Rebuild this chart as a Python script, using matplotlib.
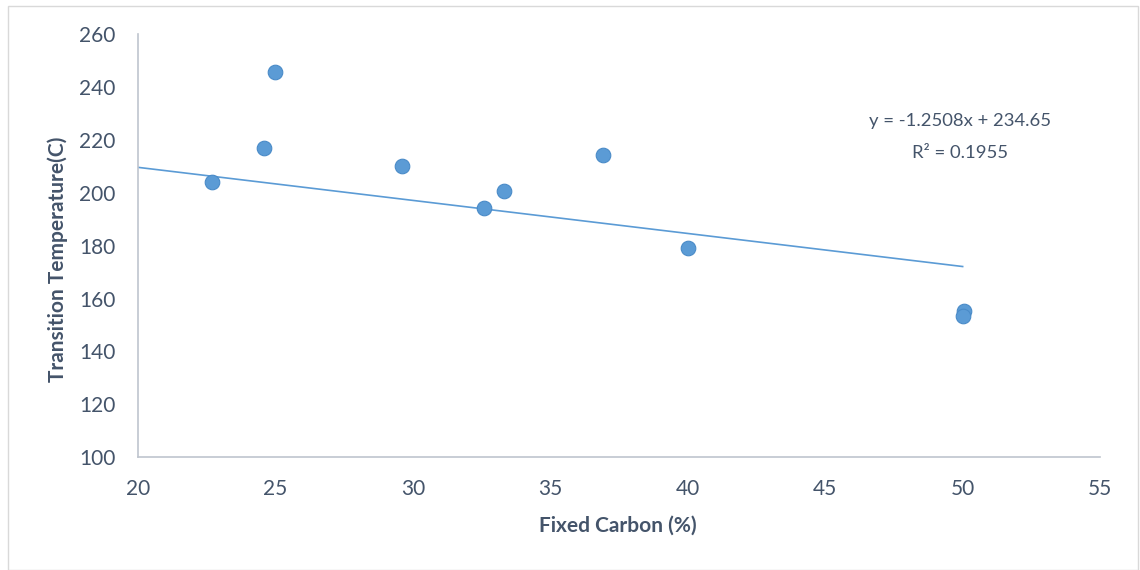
import matplotlib.pyplot as plt
from matplotlib.patches import Rectangle

plt.rcParams['font.family'] = ['Lato', 'DejaVu Sans']

# fixed carbon (%) vs transition temperature (C)
fixed_carbon = [22.7, 24.6, 25.0, 29.6, 32.6, 33.3, 36.9, 40.0, 50.05, 50.0]
transition_temp = [204.0, 217.0, 245.8, 210.2, 194.3, 200.5, 214.3, 179.2, 155.2, 153.5]

# linear trendline coefficients
slope = -1.2508
intercept = 234.65
r_squared = 0.1955

text_color = '#44546A'
blue = '#5B9BD5'
axis_color = '#BFC5CE'

fig = plt.figure(figsize=(11.4, 5.7), dpi=100)
ax = fig.add_axes([0.121, 0.198, 0.844, 0.742])

# chart area border
fig.patches.append(Rectangle((8 / 1140, 0), 1130 / 1140, 564 / 570, transform=fig.transFigure,
                             fill=False, edgecolor='#D9D9D9', linewidth=1))

ax.plot(fixed_carbon, transition_temp, 'o', color=blue, markersize=10.5,
        markeredgecolor='#4A8BC8', markeredgewidth=0.8, zorder=3)

trend_x = [20, 50]
trend_y = [slope * x + intercept for x in trend_x]
ax.plot(trend_x, trend_y, color=blue, linewidth=1.2, zorder=2)

ax.text(49.9, 227.3, f'y = {slope}x + {intercept}', ha='center', va='center',
        fontsize=13.3, color=text_color)
ax.text(49.9, 215.2, f'R² = {r_squared}', ha='center', va='center',
        fontsize=13.3, color=text_color)

ax.set_xlim(20, 55)
ax.set_ylim(100, 260)
ax.set_xticks(range(20, 56, 5))
ax.set_yticks(range(100, 261, 20))
ax.tick_params(length=0, labelsize=15, labelcolor=text_color, pad=16)

for side in ['top', 'right']:
    ax.spines[side].set_visible(False)
for side in ['left', 'bottom']:
    ax.spines[side].set_color(axis_color)
    ax.spines[side].set_linewidth(1.2)

ax.set_xlabel('Fixed Carbon (%)', fontsize=15, fontweight='bold', color=text_color)
ax.set_ylabel('Transition Temperature(C)', fontsize=15, fontweight='bold', color=text_color)
ax.xaxis.set_label_coords(0.499, -0.161)
ax.yaxis.set_label_coords(-0.083, 0.468)
ax.xaxis.label.set_va('center')
ax.yaxis.label.set_va('center')

fig.savefig('out.png', dpi=100)
